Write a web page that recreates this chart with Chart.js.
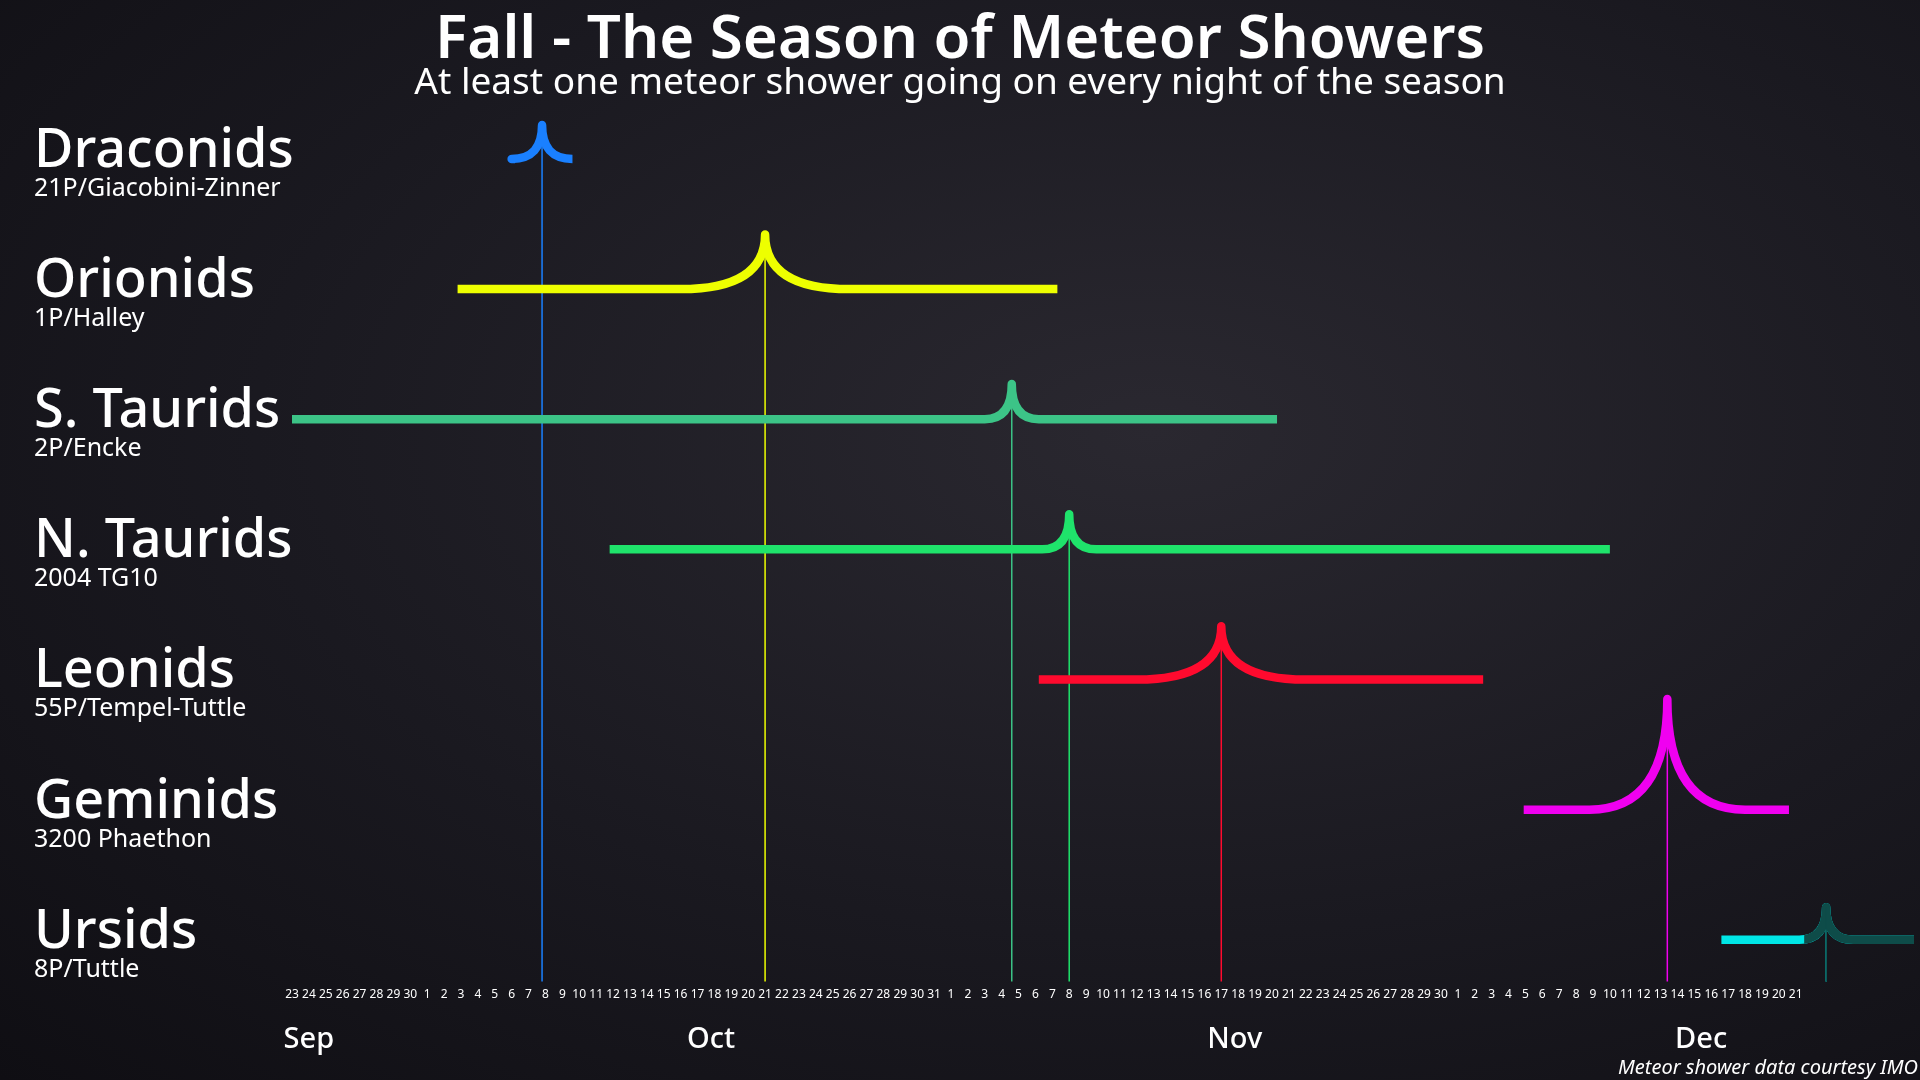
<!DOCTYPE html>
<html>
<head>
<meta charset="utf-8">
<script src="https://cdn.jsdelivr.net/npm/chart.js@4.4.1/dist/chart.umd.min.js"></script>
<style>
  html, body { margin: 0; padding: 0; background: #121117; }
  #wrap { width: 1920px; height: 1080px; position: relative;
    background: radial-gradient(ellipse at 60% 40%, #2a2830 0%, #1a1920 55%, #0f0e13 100%); }
</style>
</head>
<body>
<div id="wrap"><canvas id="chart"></canvas></div>
<script>
// day index 0 = Sep 23
var dayLabels = [23,24,25,26,27,28,29,30,
  1,2,3,4,5,6,7,8,9,10,11,12,13,14,15,16,17,18,19,20,21,22,23,24,25,26,27,28,29,30,31,
  1,2,3,4,5,6,7,8,9,10,11,12,13,14,15,16,17,18,19,20,21,22,23,24,25,26,27,28,29,30,
  1,2,3,4,5,6,7,8,9,10,11,12,13,14,15,16,17,18,19,20,21];
var monthNames = ["Sep", "Oct", "Nov", "Dec"];
var monthPos = [1, 24.8, 55.8, 83.4];

var showers = ["Draconids", "Orionids", "S. Taurids", "N. Taurids", "Leonids", "Geminids", "Ursids"];
var parents = ["21P/Giacobini-Zinner", "1P/Halley", "2P/Encke", "2004 TG10", "55P/Tempel-Tuttle", "3200 Phaethon", "8P/Tuttle"];
var rows = [6, 5, 4, 3, 2, 1, 0];
var startDay = [13.2, 9.8, 0, 18.8, 44.2, 72.9, 84.6];
var peakDay = [14.8, 28, 42.6, 46, 55, 81.4, 90.8];
var endDay = [16.6, 45.3, 58.3, 78, 70.5, 88.6, 96];
var peakHeight = [0.26, 0.42, 0.27, 0.27, 0.41, 0.85, 0.25];
var curveHalf = [1.8, 5, 1.6, 1.6, 5, 4.6, 1.6];
var colors = ["#1a80ff", "#eeff00", "#3cc487", "#1fe36b", "#ff0a2e", "#f000f0", "#00e6e6"];
var darkFrom = [null, null, null, null, null, null, 89.5];
var darkColor = "#0e4c49";

var datasets = showers.map(function (name, i) {
  return {
    label: name,
    data: [
      { x: startDay[i], y: rows[i] },
      { x: peakDay[i] - curveHalf[i], y: rows[i] },
      { x: peakDay[i], y: rows[i] + peakHeight[i] },
      { x: peakDay[i] + curveHalf[i], y: rows[i] },
      { x: endDay[i], y: rows[i] }
    ],
    showLine: false,
    pointRadius: 0,
    borderColor: colors[i]
  };
});

function tracePath(ctx, p) {
  ctx.beginPath();
  ctx.moveTo(p[0].x, p[0].y);
  ctx.lineTo(p[1].x, p[1].y);
  ctx.quadraticCurveTo(p[2].x, p[1].y, p[2].x, p[2].y);
  ctx.quadraticCurveTo(p[2].x, p[3].y, p[3].x, p[3].y);
  ctx.lineTo(p[4].x, p[4].y);
}

var showerPlugin = {
  id: "showers",
  afterDatasetsDraw: function (chart) {
    var ctx = chart.ctx, area = chart.chartArea;
    var xs = chart.scales.x, ys = chart.scales.y;
    ctx.save();
    chart.data.datasets.forEach(function (ds, i) {
      var p = chart.getDatasetMeta(i).data;
      ctx.strokeStyle = colors[i];
      ctx.lineWidth = 1.5;
      ctx.beginPath();
      ctx.moveTo(p[2].x, p[2].y);
      ctx.lineTo(p[2].x, area.bottom + 8);
      ctx.stroke();
      ctx.lineWidth = 8.5;
      ctx.lineJoin = "round";
      tracePath(ctx, p);
      ctx.stroke();
      if (darkFrom[i] !== null) {
        ctx.save();
        var cx = xs.getPixelForValue(darkFrom[i]);
        ctx.beginPath();
        ctx.rect(cx, 0, chart.width - cx, chart.height);
        ctx.clip();
        ctx.strokeStyle = darkColor;
        tracePath(ctx, p);
        ctx.stroke();
        ctx.lineWidth = 1.5;
        ctx.beginPath();
        ctx.moveTo(p[2].x, p[2].y);
        ctx.lineTo(p[2].x, area.bottom + 8);
        ctx.stroke();
        ctx.restore();
      }
    });
    ctx.fillStyle = "#ffffff";
    ctx.textAlign = "left";
    showers.forEach(function (name, i) {
      var y = ys.getPixelForValue(rows[i]);
      ctx.font = "500 54px 'Noto Sans'";
      ctx.fillText(name, 34, y + 8);
      ctx.font = "25px 'Noto Sans'";
      ctx.fillText(parents[i], 34, y + 37);
    });
    ctx.textAlign = "center";
    ctx.font = "600 60px 'Noto Sans'";
    ctx.fillText("Fall - The Season of Meteor Showers", 960, 58);
    ctx.font = "37px 'Noto Sans'";
    ctx.fillText("At least one meteor shower going on every night of the season", 960, 94);
    ctx.font = "500 29px 'Noto Sans'";
    monthNames.forEach(function (m, k) {
      ctx.fillText(m, xs.getPixelForValue(monthPos[k]), 1048);
    });
    ctx.textAlign = "right";
    ctx.font = "italic 20px 'Noto Sans'";
    ctx.fillText("Meteor shower data courtesy IMO", 1918, 1074);
    ctx.restore();
  }
};

new Chart(document.getElementById("chart"), {
  type: "scatter",
  data: { datasets: datasets },
  options: {
    responsive: true,
    maintainAspectRatio: false,
    animation: false,
    layout: { padding: { left: 292, right: 6, top: 116, bottom: 72 } },
    plugins: { legend: { display: false }, tooltip: { enabled: false } },
    scales: {
      x: {
        type: "linear", min: 0, max: 96,
        grid: { display: false }, border: { display: false },
        ticks: {
          stepSize: 1, autoSkip: false, maxRotation: 0, padding: 6,
          color: "#ffffff", font: { family: "Noto Sans", size: 12 },
          callback: function (v) { return dayLabels[v] !== undefined ? dayLabels[v] : ""; }
        }
      },
      y: { type: "linear", min: -0.26, max: 6.33, display: false }
    }
  },
  plugins: [showerPlugin]
});
</script>
</body>
</html>
